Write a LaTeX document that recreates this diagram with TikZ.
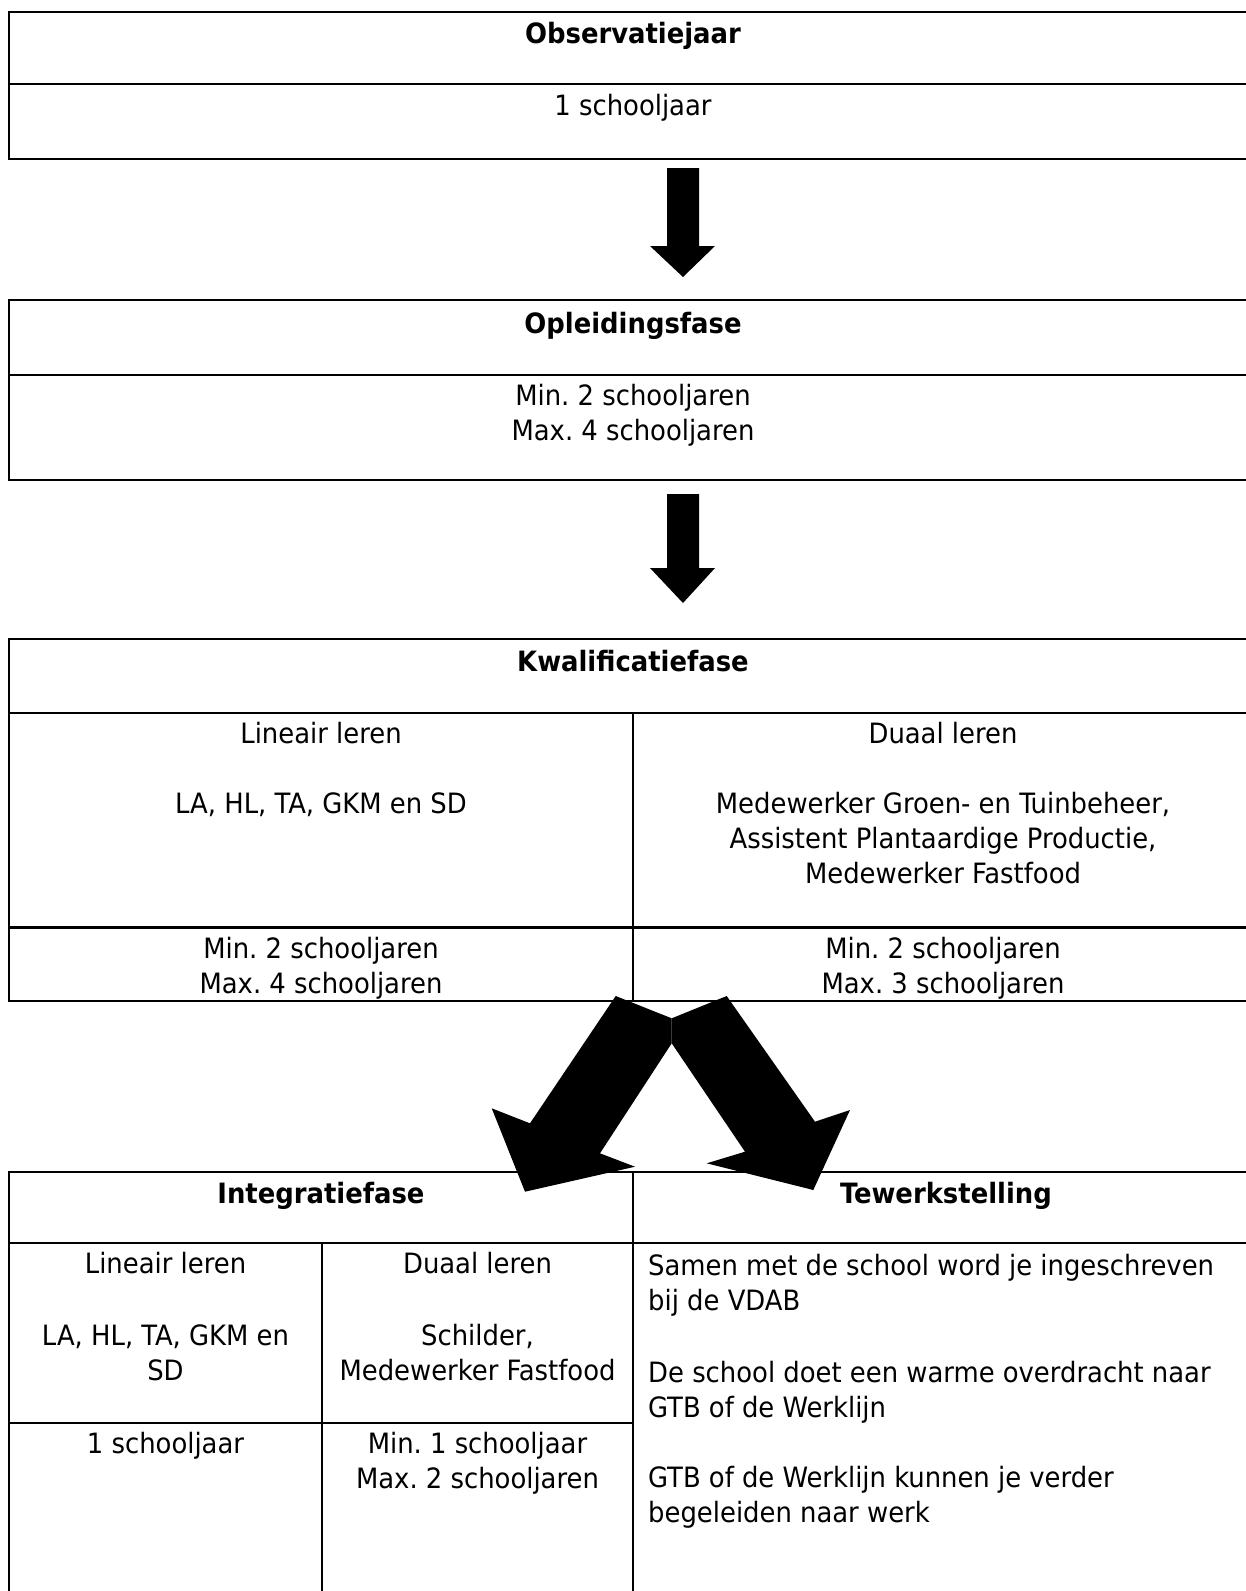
\documentclass[tikz,border=0pt]{standalone}
\usepackage{fontspec}
\setmainfont{DejaVu Sans Condensed}[BoldFont={DejaVu Sans Condensed Bold},FakeStretch=1.027]
\usetikzlibrary{calc}
\frenchspacing
\begin{document}
\begin{tikzpicture}[x=1pt,y=-1pt]
\tikzset{
  cell/.style={draw=black, line width=2.8pt},
  txt/.style={font=\fontsize{28}{35}\selectfont, inner sep=0pt, anchor=base, align=center},
  hdr/.style={txt, font=\fontsize{28}{35}\selectfont\bfseries},
  lefttxt/.style={txt, anchor=base west, align=left},
  blockarrow/.style={fill=black, draw=none}
}
\useasboundingbox (0,0) rectangle (1246,1591);
\clip (0,0) rectangle (1246,1591);

% Box 1: Observatiejaar
\draw[cell] (1260,12) -- (9,12) -- (9,159) -- (1260,159);
\draw[cell] (9,84) -- (1260,84);
\node[hdr] (obs) at (633,43) {Observatiejaar};
\node[txt] (obsT) at (633,115) {1 schooljaar};

% Box 2: Opleidingsfase
\draw[cell] (1260,300) -- (9,300) -- (9,480) -- (1260,480);
\draw[cell] (9,375) -- (1260,375);
\node[hdr] (opl) at (633,333) {Opleidingsfase};
\node[txt] (oplT) at (633,440) {Min. 2 schooljaren\\Max. 4 schooljaren};

% Box 3: Kwalificatiefase
\draw[cell] (1260,639) -- (9,639) -- (9,1001) -- (1260,1001);
\draw[cell] (9,713) -- (1260,713);
\draw[cell] (9,927.5) -- (1260,927.5);
\draw[cell] (633,713) -- (633,1001);
\node[hdr] (kwal) at (633,671) {Kwalificatiefase};
\node[txt] (kwLin) at (321,743) {Lineair leren};
\node[txt] (kwLinR) at (321,813) {LA, HL, TA, GKM en SD};
\node[txt] (kwDu) at (943,743) {Duaal leren};
\node[txt] (kwDuR) at (943,883) {Medewerker Groen- en Tuinbeheer,\\Assistent Plantaardige Productie,\\Medewerker Fastfood};
\node[txt] (kwLinD) at (321,993) {Min. 2 schooljaren\\Max. 4 schooljaren};
\node[txt] (kwDuD) at (943,993) {Min. 2 schooljaren\\Max. 3 schooljaren};

% Box 4: Integratiefase / Tewerkstelling
\draw[cell] (1260,1172) -- (9,1172) -- (9,1600);
\draw[cell] (9,1243) -- (1260,1243);
\draw[cell] (633,1172) -- (633,1600);
\draw[cell] (322,1243) -- (322,1600);
\draw[cell] (9,1423) -- (633,1423);
\node[hdr] (integ) at (321,1203) {Integratiefase};
\node[hdr] (tewerk) at (946,1203) {Tewerkstelling};
\node[txt] (inLin) at (165.5,1273) {Lineair leren};
\node[txt] (inLinR) at (165.5,1380) {LA, HL, TA, GKM en\\SD};
\node[txt] (inDu) at (477.5,1273) {Duaal leren};
\node[txt] (inDuR) at (477.5,1380) {Schilder,\\Medewerker Fastfood};
\node[txt] (inLinD) at (165.5,1453) {1 schooljaar};
\node[txt] (inDuD) at (477.5,1488) {Min. 1 schooljaar\\Max. 2 schooljaren};
\node[lefttxt] (tewT) at (648,1522) {Samen met de school word je ingeschreven\\bij de VDAB\\[37pt]De school doet een warme overdracht naar\\GTB of de Werklijn\\[35pt]GTB of de Werklijn kunnen je verder\\begeleiden naar werk};

% Block arrows
\coordinate (a1) at (683,168);
\fill[blockarrow] ($(a1)+(-16,0)$) -- ($(a1)+(16,0)$) -- ($(a1)+(16,78)$) -- ($(a1)+(32,78)$) -- ($(a1)+(0,109)$) -- ($(a1)+(-33,78)$) -- ($(a1)+(-16,78)$) -- cycle;
\coordinate (a2) at (683,494);
\fill[blockarrow] ($(a2)+(-16,0)$) -- ($(a2)+(16,0)$) -- ($(a2)+(16,74)$) -- ($(a2)+(32,74)$) -- ($(a2)+(0,109)$) -- ($(a2)+(-33,74)$) -- ($(a2)+(-16,74)$) -- cycle;

% Crossing arrows
\fill[blockarrow] (615.7,996) -- (671.7,1018.3) -- (671.7,1043.3) -- (600,1153.3) -- (635,1166.7) -- (525,1191.7) -- (491.7,1108.3) -- (530,1123.3) -- cycle;
\fill[blockarrow] (726.7,996) -- (671.7,1018.3) -- (671.7,1043.3) -- (745,1151.7) -- (706.7,1163.3) -- (813.3,1190) -- (850,1110) -- (815,1121.7) -- cycle;
\end{tikzpicture}
\end{document}
